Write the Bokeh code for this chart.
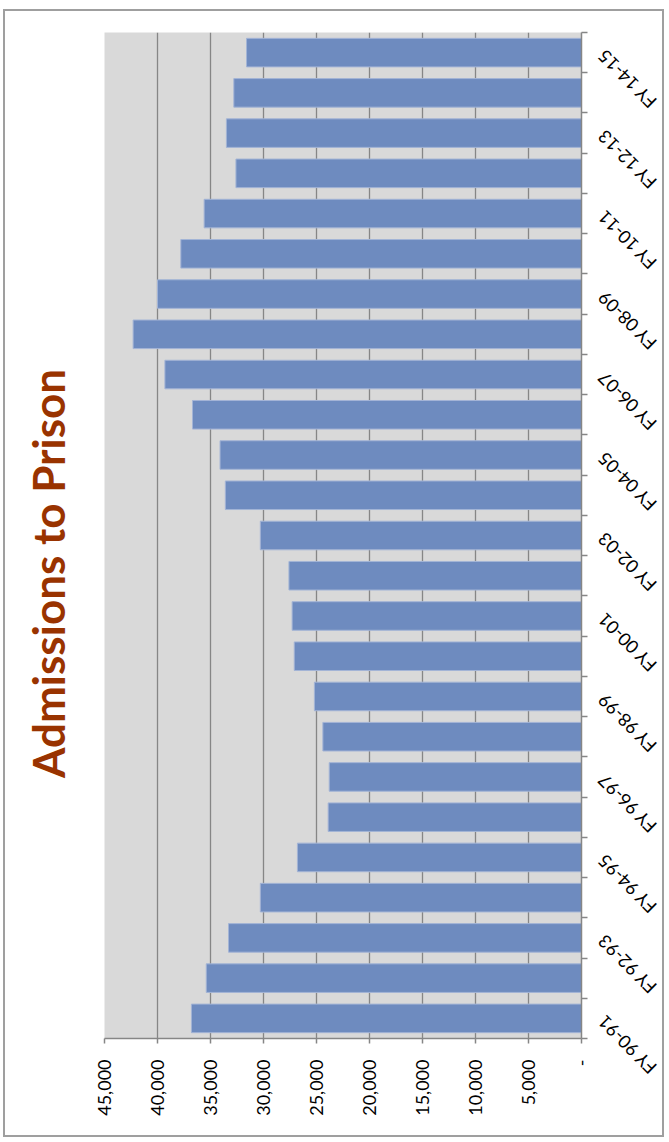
import math
from bokeh.plotting import figure
from bokeh.layouts import row
from bokeh.models import (Range1d, FixedTicker, NumeralTickFormatter, ColumnDataSource, Title)
from bokeh.core.properties import value
from bokeh.embed import file_html
from bokeh.resources import INLINE

# ---- data ----
categories = ["FY 90-91", "FY 91-92", "FY 92-93", "FY 93-94", "FY 94-95", "FY 95-96",
              "FY 96-97", "FY 97-98", "FY 98-99", "FY 99-00", "FY 00-01", "FY 01-02",
              "FY 02-03", "FY 03-04", "FY 04-05", "FY 05-06", "FY 06-07", "FY 07-08",
              "FY 08-09", "FY 09-10", "FY 10-11", "FY 11-12", "FY 12-13", "FY 13-14",
              "FY 14-15"]
admissions = [36800, 35400, 33300, 30300, 26800, 23900,
              23800, 24400, 25200, 27100, 27300, 27600,
              30300, 33600, 34100, 36700, 39300, 42300,
              40000, 37800, 35600, 32600, 33500, 32800,
              31600]
value_ticks = [0, 5000, 10000, 15000, 20000, 25000, 30000, 35000, 40000, 45000]
title_text = "Admissions to Prison"

n = len(categories)
pos = [i + 0.5 for i in range(n)]
src = ColumnDataSource(dict(y=pos, value=admissions, cat=categories))
lab_idx = list(range(0, n, 2))
lab_src = ColumnDataSource(dict(y=[pos[i] for i in lab_idx],
                                text=[categories[i] for i in lab_idx],
                                x=[0] * len(lab_idx)))

FONT = "Lato"
GRID = "#868686"

# layout constants (pixels)
TOTAL_W, TOTAL_H = 657, 1124
TITLE_W = 87
B_LEFT, B_TOP, B_RIGHT = 12, 21, 11
FRAME_W, FRAME_H = 477, 1006
B_BOTTOM = TOTAL_H - B_TOP - FRAME_H
MAIN_W = B_LEFT + FRAME_W + B_RIGHT
LAB_W = TOTAL_W - TITLE_W - MAIN_W

# ---- title strip ----
t = figure(width=TITLE_W, height=TOTAL_H, output_backend="svg", toolbar_location=None,
           x_range=Range1d(0, 1), y_range=Range1d(0, 1),
           x_axis_location=None, y_axis_location=None,
           min_border_left=73, min_border_right=0, min_border_top=0, min_border_bottom=0,
           title_location="left")
t.frame_align = False
t.title = Title(text=title_text, text_font=FONT, text_font_size="44px",
                text_font_style="bold", text_color="#993300", align="center",
                standoff=10)
t.outline_line_color = None
t.background_fill_color = "white"
t.border_fill_color = "white"
t.grid.grid_line_color = None

# ---- main chart ----
p = figure(width=MAIN_W, height=TOTAL_H, output_backend="svg", toolbar_location=None,
           x_range=Range1d(45000, 0), y_range=Range1d(0, n),
           x_axis_location="below", y_axis_location="right",
           min_border_left=B_LEFT, min_border_right=B_RIGHT,
           min_border_top=B_TOP, min_border_bottom=B_BOTTOM)
p.frame_align = False
p.background_fill_color = "#d9d9d9"
p.border_fill_color = "white"
p.outline_line_color = None

p.hbar(y="y", left=0, right="value", height=0.71, source=src,
       fill_color="#6E8BBF", line_color="#a3b4d6", line_width=1)

# value axis (bottom)
xa = p.xaxis[0]
xa.ticker = FixedTicker(ticks=value_ticks)
xa.formatter = NumeralTickFormatter(format="0,0")
xa.major_label_overrides = {0: "-"}
xa.major_label_orientation = math.pi / 2
xa.major_label_text_font = FONT
xa.major_label_text_font_size = "18px"
xa.major_label_text_color = "black"
xa.major_label_standoff = 16
xa.major_tick_out = 5
xa.major_tick_in = 0
xa.minor_tick_out = 0
xa.minor_tick_in = 0
xa.axis_line_color = GRID
xa.axis_line_width = 1.5
xa.major_tick_line_color = GRID
xa.major_tick_line_width = 1.5

# category axis (right): tick marks at category boundaries
ya = p.yaxis[0]
ya.ticker = FixedTicker(ticks=[], minor_ticks=list(range(0, n + 1)))
ya.major_label_text_font_size = "0px"
ya.major_label_standoff = 0
ya.major_tick_out = 0
ya.major_tick_in = 0
ya.minor_tick_out = 6
ya.minor_tick_in = 0
ya.minor_tick_line_color = GRID
ya.minor_tick_line_width = 1.5
ya.axis_line_color = GRID
ya.axis_line_width = 1.5

p.xgrid.ticker = FixedTicker(ticks=value_ticks)
p.xgrid.grid_line_color = GRID
p.xgrid.grid_line_width = 1.3
p.ygrid.grid_line_color = None

# ---- category labels: narrow companion figure on the same vertical scale ----
px_per_unit = FRAME_H / n
q = figure(width=LAB_W, height=TOTAL_H, output_backend="svg", toolbar_location=None,
           x_range=Range1d(0, 1),
           y_range=Range1d(-B_BOTTOM / px_per_unit, n + B_TOP / px_per_unit),
           x_axis_location=None, y_axis_location=None,
           min_border_left=0, min_border_right=0, min_border_top=0, min_border_bottom=0)
q.frame_align = False
q.outline_line_color = None
q.background_fill_color = "white"
q.border_fill_color = "white"
q.grid.grid_line_color = None
q.text(x="x", y="y", text="text", source=lab_src, x_offset=8,
       angle=3 * math.pi / 4, text_align="right", text_baseline="middle",
       text_font=value(FONT), text_font_size="18px", text_color="black")

layout = row(t, p, q)
layout.styles = {"margin-left": "3px", "margin-top": "9px",
                 "border": "2px solid #9f9f9f"}

open("out.html", "w").write(file_html(layout, INLINE))
